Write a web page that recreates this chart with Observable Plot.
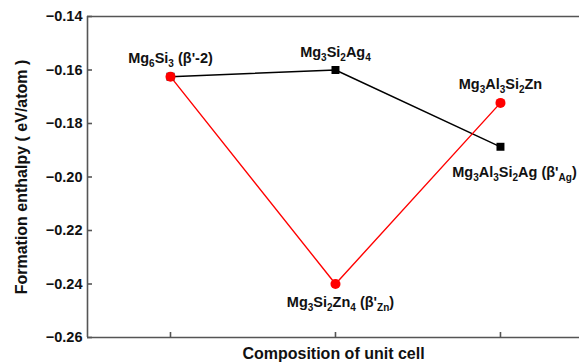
<!DOCTYPE html>
<html><head><meta charset="utf-8">
<script src="https://cdn.jsdelivr.net/npm/d3@7"></script>
<script src="https://cdn.jsdelivr.net/npm/@observablehq/plot@0.6"></script>
<style>body{margin:0;background:#fff;font-family:"Liberation Sans",Arial,sans-serif}</style>
</head><body><div id="chart"></div>
<script>
const xPos = [1, 2, 3];
const blackValues = [-0.1625, -0.160, -0.1887];
const redValues = [-0.1625, -0.2400, -0.1723];
const blackLabels = ["", "Mg_3Si_2Ag_4", "Mg_3Al_3Si_2Ag (β'_{Ag})"];
const redLabels = ["Mg_6Si_3 (β'-2)", "Mg_3Si_2Zn_4 (β'_{Zn})", "Mg_3Al_3Si_2Zn"];
const yTicks = [-0.26, -0.24, -0.22, -0.20, -0.18, -0.16, -0.14];
const xLabel = "Composition of unit cell";
const yLabel = "Formation enthalpy ( eV/atom )";

const black = xPos.map((x, i) => ({x, y: blackValues[i], label: blackLabels[i]}));
const red = xPos.map((x, i) => ({x, y: redValues[i], label: redLabels[i]}));
const axisColor = "#555";
const font = {fontSize: 14.5, fontWeight: "bold", fill: "#111"};

const chart = Plot.plot({
  width: 579, height: 363,
  marginLeft: 87, marginTop: 16, marginBottom: 26, marginRight: 0,
  style: {fontFamily: "'Liberation Sans', Arial, sans-serif", background: "#fff", color: "#111"},
  x: {domain: [0.497, 3.479]},
  y: {domain: [-0.26, -0.14]},
  marks: [
    Plot.ruleY([-0.14], {stroke: axisColor, strokeWidth: 1.6}),
    Plot.axisX({ticks: xPos, tickSize: -5, tickFormat: () => "", stroke: axisColor, strokeWidth: 1.6, label: null}),
    Plot.axisX({ticks: [], label: xLabel, labelArrow: "none", labelAnchor: "center", labelOffset: 21, fontSize: 16, fontWeight: "bold"}),
    Plot.axisY({ticks: yTicks, tickSize: -5, tickFormat: () => "", stroke: axisColor, strokeWidth: 1.6, label: null}),
    Plot.axisY({ticks: yTicks, tickSize: 0, tickPadding: 5, tickFormat: d3.format(".2f"), fontSize: 14.5, fontWeight: "bold", label: yLabel, labelArrow: "none", labelAnchor: "center", labelOffset: 72}),
    Plot.ruleX([0.497], {stroke: axisColor, strokeWidth: 1.6}),
    Plot.ruleY([-0.26], {stroke: axisColor, strokeWidth: 1.6}),
    Plot.line(black, {x: "x", y: "y", stroke: "#000", strokeWidth: 1.4}),
    Plot.line(red, {x: "x", y: "y", stroke: "#f00", strokeWidth: 1.4}),
    Plot.dot(black, {x: "x", y: "y", symbol: "square", fill: "#000", r: 4.5}),
    Plot.dot(red, {x: "x", y: "y", symbol: "circle", fill: "#f00", r: 5}),
    Plot.text(black.slice(1, 2), {x: "x", y: "y", text: "label", dy: -18, ...font, className: "sub"}),
    Plot.text(black.slice(2, 3), {x: "x", y: "y", text: "label", dy: 26, dx: 14, ...font, className: "sub"}),
    Plot.text(red.slice(0, 1), {x: "x", y: "y", text: "label", dy: -18, ...font, className: "sub"}),
    Plot.text(red.slice(1, 2), {x: "x", y: "y", text: "label", dy: 18, dx: 5, ...font, className: "sub"}),
    Plot.text(red.slice(2, 3), {x: "x", y: "y", text: "label", dy: -19, ...font, className: "sub"})
  ]
});
document.getElementById("chart").append(chart);

// strip any axis-label arrows; enlarge axis titles
d3.select(chart).selectAll("text").each(function() {
  const t = this.textContent;
  if (/[→↑↓←]/.test(t) && this.children.length === 0) this.textContent = t.replace(/\s*[→↑↓←]\s*/g, "");
  const c = this.textContent.trim();
  if (c === yLabel || c === xLabel) {
    this.setAttribute("font-size", 16);
    this.style.fontSize = "16px";
    this.setAttribute("font-weight", "bold");
  }
});

// Render subscripts: "_d" or "_{...}"
d3.select(chart).selectAll("g.sub text").each(function() {
  const el = d3.select(this);
  const s = el.text();
  el.text(null);
  const re = /_(\{[^}]*\}|\d+)/g;
  let last = 0, m;
  while ((m = re.exec(s)) !== null) {
    if (m.index > last) el.append("tspan").text(s.slice(last, m.index));
    const sub = m[1].startsWith("{") ? m[1].slice(1, -1) : m[1];
    el.append("tspan").attr("dy", 4).attr("font-size", 10).text(sub);
    el.append("tspan").attr("dy", -4).text("\u200B");
    last = re.lastIndex;
  }
  if (last < s.length) el.append("tspan").text(s.slice(last));
});
</script>
</body></html>
